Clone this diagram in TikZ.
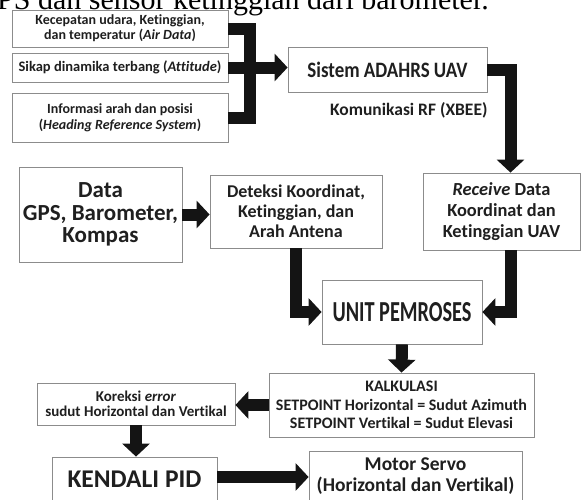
\documentclass[tikz,border=0pt]{standalone}
\usepackage{fontspec}
\usepackage{graphicx}
\setsansfont{Carlito}[Ligatures={NoCommon}]
\newfontfamily\capfont{Liberation Serif}
\usepackage{tikz}
\usetikzlibrary{calc}
\usetikzlibrary{arrows.meta}

\tikzset{
  box/.style={draw=black!45, line width=0.8pt, fill=white, align=center,
    inner sep=1pt, text=black!88, font=\sffamily\bfseries},
  bar/.style={line width=12pt, line join=miter, draw=black!92},
  arr/.style={-{Triangle[length=13pt,width=27pt]}},
  lbl/.style={text=black!88, font=\sffamily\bfseries\fontsize{17.5}{19}\selectfont}
}
\newcommand{\fs}[2]{\fontsize{#1}{#2}\selectfont}
\newcommand{\narrow}[2]{\scalebox{#1}[1]{#2}}

\begin{document}
\begin{tikzpicture}[x=1pt,y=-1pt]
        \useasboundingbox (0,0) rectangle (582,499);
        \clip (0,0) rectangle (582,499);

        % Caption line above the figure
        \node[anchor=base east, inner sep=0pt, font=\capfont\fs{30}{32}] (cap) at (489,9)
          {GPS dan sensor ketinggian dari barometer.};

        % Sensor inputs
        \node[box, minimum width=216pt, minimum height=37pt, font=\sffamily\bfseries\fs{14}{15}] (air) at (120,28.5)
          {Kecepatan udara, Ketinggian,\\dan temperatur (\textit{Air Data})};
        \node[box, minimum width=216pt, minimum height=29pt, font=\sffamily\bfseries\fs{14.5}{15}] (att) at (120,67.5)
          {Sikap dinamika terbang (\textit{Attitude})};
        \node[box, minimum width=216pt, minimum height=49pt, font=\sffamily\bfseries\fs{14}{16}] (hdg) at (120,117.5)
          {Informasi arah dan posisi\\(\textit{Heading Reference System})};
        \node[box, minimum width=199pt, minimum height=45pt, font=\sffamily\bfseries\fs{22}{24}] (sis) at (387.5,69.5)
          {\narrow{0.86}{Sistem ADAHRS UAV}};

        \coordinate (jn) at (250,0);
        \draw [bar] (air.east) -| (jn |- hdg.east) -- (hdg.east);
        \draw [bar,arr] (att.east) -- (sis.west |- att.east);

        % Ground station
        \node[box, minimum width=163pt, minimum height=95pt, font=\sffamily\bfseries\fs{23}{22.5}] (data) at (100.5,214.5)
          {Data\\GPS, Barometer,\\Kompas};
        \node[box, minimum width=172pt, minimum height=73pt, font=\sffamily\bfseries\fs{18}{20}] (det) at (296,211.5)
          {Deteksi Koordinat,\\Ketinggian, dan\\Arah Antena};
        \node[box, minimum width=157pt, minimum height=77pt, font=\sffamily\bfseries\fs{18.4}{21}] (rcv) at (501.5,211.5)
          {\textit{Receive} Data\\Koordinat dan\\Ketinggian UAV};
        \node[box, minimum width=160pt, minimum height=64pt, font=\sffamily\bfseries\fs{29}{32}] (unit) at (402,312)
          {\narrow{0.7}{UNIT PEMROSES}};

        % Radio link
        \draw [bar,arr] (sis.east) -| ([xshift=9pt]rcv.north);
        \node[lbl, anchor=east] (rf) at (491,110) {Komunikasi RF (XBEE)};

        \draw [bar,arr] (data.east) -- (det.west |- data.east);
        \draw [bar,arr] (det.south) |- (unit.west);
        \draw [bar,arr] ([xshift=9pt]rcv.south) |- (unit.east);

        % Control
        \node[box, minimum width=265pt, minimum height=64pt, font=\sffamily\bfseries\fs{16}{18.5}] (kalk) at (401.5,405)
          {KALKULASI\\SETPOINT Horizontal = Sudut Azimuth\\SETPOINT Vertikal = Sudut Elevasi};
        \node[box, minimum width=198pt, minimum height=42pt, font=\sffamily\bfseries\fs{15}{15.5}] (kor) at (136,404)
          {Koreksi \textit{error}\\sudut Horizontal dan Vertikal};
        \node[box, minimum width=165pt, minimum height=44pt, font=\sffamily\bfseries\fs{25.5}{27}] (pid) at (134.5,479)
          {KENDALI PID};
        \node[box, minimum width=213pt, minimum height=50pt, font=\sffamily\bfseries\fs{19.5}{20.5}] (mot) at (415.5,476)
          {Motor Servo\\(Horizontal dan Vertikal)};

        \draw [bar,arr] (unit.south) -- (kalk.north);
        \draw [bar,arr] (kalk.west) -- (kor.east |- kalk.west);
        \draw [bar,arr] (kor.south) -- (kor.south |- pid.north);
        \draw [bar,arr] ([yshift=2pt]pid.east) -- ([yshift=2pt]pid.east -| mot.west);
    \end{tikzpicture}
\end{document}
